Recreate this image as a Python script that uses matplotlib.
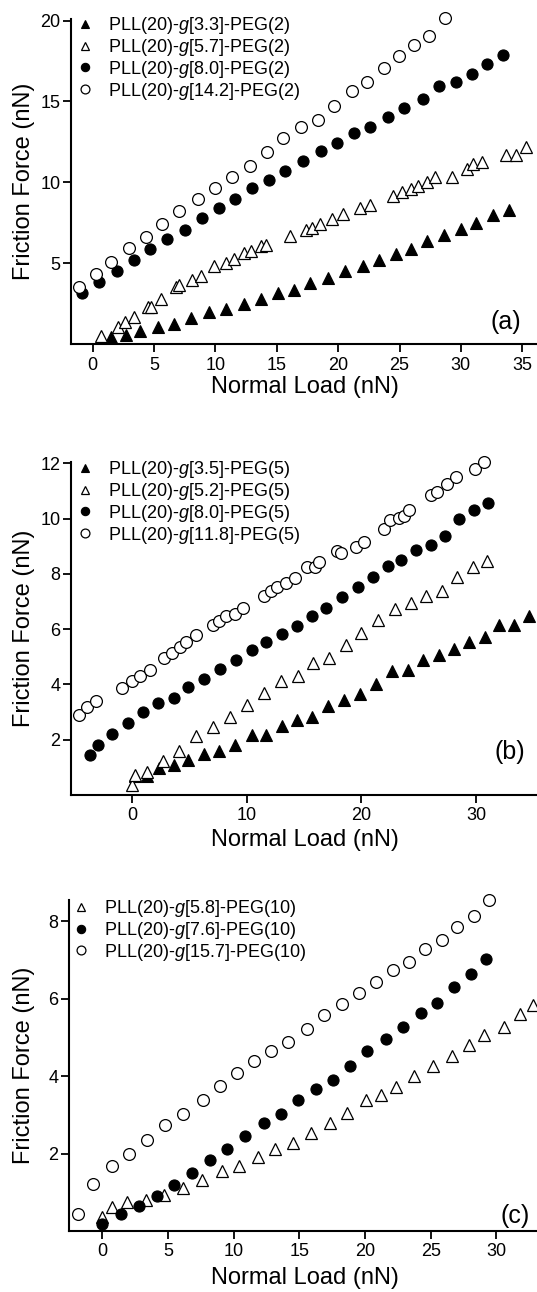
import matplotlib
matplotlib.use("Agg")
import matplotlib.pyplot as plt
from matplotlib.lines import Line2D

plt.rcParams["font.family"] = ["Liberation Sans", "DejaVu Sans"]
plt.rcParams["mathtext.fontset"] = "custom"
plt.rcParams["mathtext.rm"] = "Liberation Sans"
plt.rcParams["mathtext.it"] = "Liberation Sans:italic"

# ---- panel (a): PEG(2) ----
a_labels = ["PLL(20)-$g$[3.3]-PEG(2)", "PLL(20)-$g$[5.7]-PEG(2)",
            "PLL(20)-$g$[8.0]-PEG(2)", "PLL(20)-$g$[14.2]-PEG(2)"]
a1_x = [1.5, 2.7, 3.9, 5.3, 6.6, 8.0, 9.5, 10.9, 12.3, 13.7, 15.1, 16.4, 17.7,
        19.2, 20.6, 22.0, 23.3, 24.7, 25.9, 27.2, 28.6, 30.0, 31.2, 32.6, 33.9]
a1_y = [0.42, 0.58, 0.83, 1.04, 1.25, 1.6, 1.98, 2.19, 2.5, 2.81, 3.13, 3.33, 3.79,
        4.1, 4.54, 4.83, 5.21, 5.56, 5.88, 6.35, 6.73, 7.13, 7.46, 7.98, 8.27]
a2_x = [0.7, 2.1, 2.65, 3.35, 4.55, 4.75, 5.6, 6.8, 7.0, 8.1, 8.8, 9.9, 10.9, 11.5,
        12.3, 12.9, 13.7, 14.1, 16.1, 17.4, 17.9, 18.5, 19.5, 20.4, 21.8, 22.6,
        24.5, 25.2, 25.9, 26.5, 27.2, 27.9, 29.3, 30.5, 31.0, 31.7, 33.7, 34.5, 35.3]
a2_y = [0.52, 1.04, 1.35, 1.67, 2.29, 2.3, 2.81, 3.54, 3.65, 3.96, 4.21, 4.83, 5.0,
        5.25, 5.63, 5.73, 6.08, 6.15, 6.67, 7.08, 7.19, 7.4, 7.75, 8.02, 8.44, 8.58,
        9.17, 9.42, 9.58, 9.79, 10.0, 10.31, 10.31, 10.83, 11.15, 11.25, 11.67,
        11.67, 12.19]
a3_x = [-0.84, 0.56, 1.95, 3.35, 4.66, 6.1, 7.5, 8.9, 10.3, 11.6, 13.0, 14.4, 15.7,
        17.1, 18.6, 19.9, 21.3, 22.6, 24.1, 25.4, 26.9, 28.2, 29.6, 30.9, 32.1, 33.4]
a3_y = [3.13, 3.85, 4.54, 5.21, 5.9, 6.5, 7.08, 7.81, 8.44, 8.94, 9.67, 10.17,
        10.67, 11.29, 11.92, 12.44, 13.06, 13.4, 14.06, 14.58, 15.17, 15.94, 16.19,
        16.71, 17.29, 17.88]
a4_x = [-1.1, 0.28, 1.53, 2.93, 4.32, 5.66, 7.03, 8.56, 9.96, 11.35, 12.83, 14.22,
        15.53, 16.95, 18.32, 19.66, 21.11, 22.39, 23.7, 24.96, 26.21, 27.41, 28.72]
a4_y = [3.5, 4.33, 5.1, 5.94, 6.6, 7.4, 8.23, 8.99, 9.63, 10.31, 11.0, 11.88,
        12.75, 13.44, 13.85, 14.75, 15.67, 16.19, 17.08, 17.81, 18.5, 19.06, 20.17]

# ---- panel (b): PEG(5) ----
b_labels = ["PLL(20)-$g$[3.5]-PEG(5)", "PLL(20)-$g$[5.2]-PEG(5)",
            "PLL(20)-$g$[8.0]-PEG(5)", "PLL(20)-$g$[11.8]-PEG(5)"]
b1_x = [0.24, 1.28, 2.33, 3.67, 4.87, 6.33, 7.61, 9.01, 10.45, 11.7, 13.04, 14.39,
        15.73, 17.07, 18.5, 19.85, 21.28, 22.69, 24.03, 25.37, 26.72, 28.06, 29.4,
        30.75, 32.03, 33.28, 34.63]
b1_y = [0.67, 0.67, 0.98, 1.07, 1.28, 1.49, 1.58, 1.8, 2.18, 2.18, 2.51, 2.72,
        2.84, 3.23, 3.45, 3.66, 4.02, 4.49, 4.53, 4.87, 5.07, 5.28, 5.52, 5.71,
        6.16, 6.16, 6.48]
b2_x = [0.0, 0.3, 1.34, 2.75, 4.12, 5.58, 7.1, 8.51, 10.06, 11.49, 12.99, 14.48,
        15.82, 17.22, 18.66, 20.0, 21.49, 22.96, 24.33, 25.67, 27.01, 28.36, 29.7,
        30.96]
b2_y = [0.37, 0.73, 0.82, 1.22, 1.6, 2.12, 2.46, 2.84, 3.27, 3.69, 4.11, 4.29,
        4.77, 4.95, 5.43, 5.86, 6.33, 6.72, 6.93, 7.21, 7.37, 7.88, 8.24, 8.48]
b3_x = [-3.67, -2.93, -1.73, -0.3, 0.99, 2.3, 3.64, 4.93, 6.27, 7.67, 9.04, 10.45,
        11.73, 13.04, 14.39, 15.67, 16.96, 18.27, 19.7, 20.99, 22.33, 23.49, 24.78,
        26.06, 27.25, 28.51, 29.85, 30.99]
b3_y = [1.46, 1.8, 2.22, 2.6, 3.0, 3.33, 3.51, 3.9, 4.2, 4.57, 4.89, 5.23, 5.52,
        5.83, 6.12, 6.48, 6.77, 7.15, 7.54, 7.88, 8.28, 8.52, 8.85, 9.05, 9.37,
        10.0, 10.3, 10.57]
b4_x = [-4.63, -3.88, -3.13, -0.9, 0.0, 0.75, 1.58, 2.84, 3.49, 4.18, 4.72, 5.58,
        7.07, 7.61, 8.21, 8.96, 9.7, 11.49, 12.09, 12.69, 13.43, 14.24, 15.22,
        15.97, 16.27, 17.91, 18.21, 19.55, 20.24, 21.94, 22.48, 23.28, 23.73, 24.18,
        26.06, 26.57, 27.46, 28.21, 29.94, 30.66]
b4_y = [2.9, 3.18, 3.39, 3.87, 4.13, 4.31, 4.53, 4.95, 5.13, 5.37, 5.55, 5.8, 6.16,
        6.31, 6.46, 6.55, 6.76, 7.21, 7.39, 7.52, 7.67, 7.85, 8.24, 8.24, 8.42,
        8.82, 8.75, 8.97, 9.15, 9.64, 9.94, 10.04, 10.08, 10.33, 10.85, 10.97,
        11.25, 11.49, 11.78, 12.06]

# ---- panel (c): PEG(10) ----
c_labels = ["PLL(20)-$g$[5.8]-PEG(10)", "PLL(20)-$g$[7.6]-PEG(10)",
            "PLL(20)-$g$[15.7]-PEG(10)"]
c1_x = [0.0, 0.73, 1.9, 3.34, 4.72, 6.12, 7.58, 9.07, 10.42, 11.86, 13.11, 14.54,
        15.92, 17.33, 18.66, 20.09, 21.19, 22.36, 23.74, 25.15, 26.61, 27.91,
        29.09, 30.57, 31.82, 32.79]
c1_y = [0.36, 0.62, 0.75, 0.81, 0.92, 1.12, 1.31, 1.54, 1.67, 1.9, 2.13, 2.28,
        2.53, 2.79, 3.05, 3.38, 3.51, 3.72, 4.0, 4.27, 4.51, 4.81, 5.05, 5.28,
        5.6, 5.83]
c2_x = [0.0, 1.43, 2.76, 4.12, 5.47, 6.85, 8.16, 9.46, 10.89, 12.28, 13.58, 14.93,
        16.29, 17.54, 18.84, 20.14, 21.58, 22.93, 24.26, 25.49, 26.79, 28.04, 29.22]
c2_y = [0.19, 0.43, 0.65, 0.91, 1.18, 1.5, 1.84, 2.13, 2.45, 2.78, 3.03, 3.38,
        3.68, 3.9, 4.27, 4.64, 4.95, 5.28, 5.62, 5.9, 6.3, 6.64, 7.02]
c3_x = [-1.88, -0.7, 0.73, 2.03, 3.41, 4.77, 6.12, 7.64, 8.94, 10.22, 11.52, 12.84,
        14.15, 15.58, 16.88, 18.27, 19.57, 20.85, 22.1, 23.35, 24.58, 25.83, 27.0,
        28.3, 29.48]
c3_y = [0.43, 1.22, 1.67, 2.0, 2.34, 2.75, 3.03, 3.38, 3.75, 4.09, 4.4, 4.66, 4.89,
        5.23, 5.57, 5.87, 6.15, 6.44, 6.75, 6.95, 7.29, 7.51, 7.86, 8.14, 8.54]

# marker styles: filled triangle, open triangle, filled circle, open circle
STYLES = {
    "ftri": dict(marker="^", mfc="black", mec="black", ms=8, mew=0.8),
    "otri": dict(marker="^", mfc="white", mec="black", ms=8.5, mew=0.9),
    "fcir": dict(marker="o", mfc="black", mec="black", ms=8, mew=0.8),
    "ocir": dict(marker="o", mfc="white", mec="black", ms=8.5, mew=0.9),
}

W, H = 537, 1292
fig = plt.figure(figsize=(W / 100, H / 100), dpi=100)


def panel(left, top, bottom, xlim, ylim, xticks, yticks, series, labels,
          tag, tag_xy, leg_xy, xlab_y):
    ax = fig.add_axes([left / W, 1 - bottom / H, (W - left) / W, (bottom - top) / H])
    for (x, y, st) in series:
        ax.plot(x, y, ls="none", clip_on=False, **STYLES[st])
    ax.set_xlim(*xlim)
    ax.set_ylim(*ylim)
    ax.set_xticks(xticks)
    ax.set_yticks(yticks)
    for s in ["top", "right"]:
        ax.spines[s].set_visible(False)
    for s in ["left", "bottom"]:
        ax.spines[s].set_linewidth(1.5)
    ax.tick_params(direction="out", length=5.5, width=1.3, labelsize=13)
    ax.tick_params(axis="x", pad=3.5)
    ax.tick_params(axis="y", pad=2)

    handles = [Line2D([], [], ls="none", **STYLES[st]) for (_, _, st) in series]
    ax.legend(handles, labels, loc="upper left", frameon=False, fontsize=13,
              bbox_to_anchor=(leg_xy[0] / W, 1 - leg_xy[1] / H),
              bbox_transform=fig.transFigure, borderpad=0, borderaxespad=0,
              handlelength=1.0, handletextpad=0.8, labelspacing=0.05,
              markerscale=0.75)

    fig.text(tag_xy[0] / W, 1 - tag_xy[1] / H, tag, fontsize=18,
             ha="center", va="center")
    fig.text(305 / W, 1 - xlab_y / H, "Normal Load (nN)", fontsize=17,
             ha="center", va="center")
    fig.text(24 / W, 1 - (top + bottom) / 2 / H, "Friction Force (nN)",
             fontsize=17, rotation=90, ha="center", va="center")
    return ax


panel(71, 19, 344, (-1.76, 36.2), (0, 20.1), range(0, 36, 5), [5, 10, 15, 20],
      [(a1_x, a1_y, "ftri"), (a2_x, a2_y, "otri"),
       (a3_x, a3_y, "fcir"), (a4_x, a4_y, "ocir")],
      a_labels, "(a)", (506, 322), (76, 15), 387)

panel(71, 462, 795, (-5.3, 35.3), (0, 12.05), [0, 10, 20, 30], [2, 4, 6, 8, 10, 12],
      [(b1_x, b1_y, "ftri"), (b2_x, b2_y, "otri"),
       (b3_x, b3_y, "fcir"), (b4_x, b4_y, "ocir")],
      b_labels, "(b)", (510, 752), (76, 459), 840)

panel(69, 900, 1231, (-2.55, 33.1), (0, 8.55), range(0, 31, 5), [2, 4, 6, 8],
      [(c1_x, c1_y, "otri"), (c2_x, c2_y, "fcir"), (c3_x, c3_y, "ocir")],
      c_labels, "(c)", (515, 1216), (72, 898), 1278)

fig.savefig("out.png", dpi=100)
